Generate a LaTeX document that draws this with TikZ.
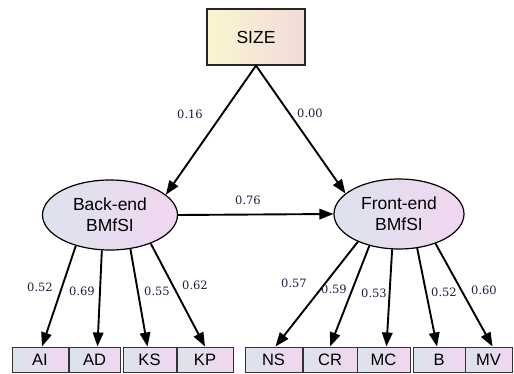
\documentclass[tikz,border=0pt]{standalone}
\usepackage{fontspec}
\setmainfont{Liberation Sans}
\newfontfamily\numfont{DejaVu Serif}
\usetikzlibrary{shapes.geometric,arrows.meta,calc}
\definecolor{cA}{HTML}{DCE3EC}
\definecolor{cB}{HTML}{F1D6F0}
\definecolor{sA}{HTML}{FBF5D0}
\definecolor{sB}{HTML}{F1DBD8}
\definecolor{numc}{HTML}{1E1E3C}
\begin{document}
\begin{tikzpicture}[x=1pt,y=-1pt,
  obs/.style={draw=black!80, line width=1pt, left color=cA, right color=cB,
    minimum height=25pt, inner sep=0pt, font=\fontsize{16.5}{18}\selectfont},
  lat/.style={ellipse, draw=black, line width=1.2pt, left color=cA, right color=cB,
    inner sep=0pt, align=center, font=\fontsize{17.5}{21}\selectfont},
  arr/.style={-{Triangle[length=14pt,width=10.5pt]}, line width=1.9pt},
  coef/.style={font=\numfont\fontsize{11.5}{13}\selectfont, text=numc, inner sep=0pt}]
\useasboundingbox (0,0) rectangle (514,374);
\fill[white] (0,0) rectangle (514,374);

\node[draw=black!85, line width=1.2pt, minimum width=98pt, minimum height=56pt,
  left color=sA, right color=sB, font=\fontsize{17.5}{20}\selectfont] (size) at (256,37) {SIZE};

\node[lat, minimum width=135pt, minimum height=70pt] (BE) at (110,215) {Back-end\\BMfSI};
\node[lat, minimum width=130pt, minimum height=70pt] (FE) at (399,214) {Front-end\\BMfSI};

\node[obs, minimum width=56pt] (AI) at (40,359.5) {AI};
\node[obs, minimum width=51pt] (AD) at (94.5,359.5) {AD};
\node[obs, minimum width=53pt] (KS) at (149.5,359.5) {KS};
\node[obs, minimum width=56pt] (KP) at (205,359.5) {KP};

\node[obs, minimum width=57pt] (NS) at (273.5,359.5) {NS};
\node[obs, minimum width=54pt] (CR) at (330,359.5) {CR};
\node[obs, minimum width=53pt] (MC) at (383.5,359.5) {MC};
\node[obs, minimum width=52pt] (B) at (439,359.5) {B};
\node[obs, minimum width=47pt] (MV) at (488.5,359.5) {MV};

\draw[arr] (size.south) -- (BE.20);
\draw[arr] (size.south) -- (FE.159);
\draw[arr] (BE.east) -- (FE.west);

\draw[arr] (BE.222) -- ($(AI.north)+(2,0)$);
\draw[arr] (BE.257) -- ($(AD.north)+(3,0)$);
\draw[arr] (BE.301) -- ($(KS.north)+(-2,0)$);
\draw[arr] (BE.325) -- (KP.north);

\draw[arr] (FE.214) -- ($(NS.north)+(2,0)$);
\draw[arr] (FE.227) -- (CR.north);
\draw[arr] (FE.259) -- ($(MC.north)+(3,0)$);
\draw[arr] (FE.298) -- ($(B.north)+(-2,0)$);
\draw[arr] (FE.321) -- ($(MV.north)+(4,0)$);

\node[coef] (c1) at (190,114) {0.16};
\node[coef] (c2) at (310,113) {0.00};
\node[coef] (c3) at (248,200) {0.76};
\node[coef] (c4) at (40,287) {0.52};
\node[coef] (c5) at (82,291) {0.69};
\node[coef] (c6) at (157,291) {0.55};
\node[coef] (c7) at (195,285) {0.62};
\node[coef] (c8) at (294,283) {0.57};
\node[coef] (c9) at (334,289) {0.59};
\node[coef] (c10) at (374,293) {0.53};
\node[coef] (c11) at (444,292) {0.52};
\node[coef] (c12) at (484,290) {0.60};
\end{tikzpicture}
\end{document}
